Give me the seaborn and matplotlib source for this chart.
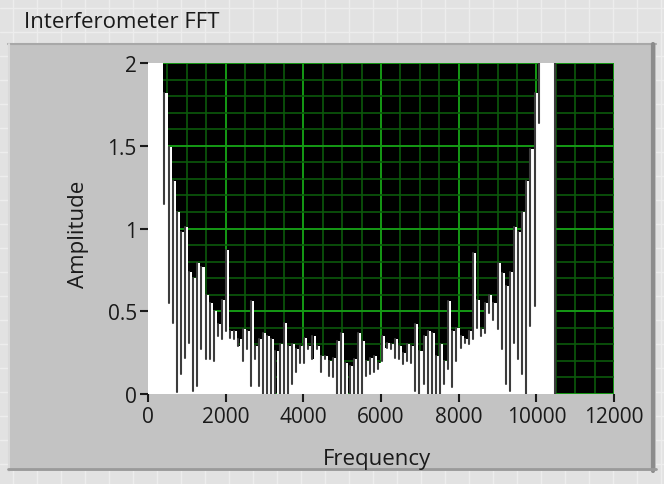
import numpy as np
import pandas as pd
import matplotlib
matplotlib.use("Agg")
import matplotlib.pyplot as plt
from matplotlib.patches import Rectangle
from matplotlib.lines import Line2D
import seaborn as sns

# FFT bins: DC bins (off scale), then alternating peak / trough bins, then the tail
dc_amp = [6.0, 5.2, 4.4, 3.8, 3.3, 2.9, 2.6, 2.4]
first_trough = 1.15
peak_amp = [
    1.82, 1.49, 1.29, 1.10, 0.98, 1.01, 0.74, 0.70, 0.79, 0.77,
    0.60, 0.55, 0.50, 0.42, 0.57, 0.87, 0.38, 0.38, 0.33, 0.39,
    0.38, 0.56, 0.29, 0.33, 0.37, 0.35, 0.33, 0.26, 0.30, 0.43,
    0.29, 0.30, 0.27, 0.29, 0.34, 0.29, 0.35, 0.29, 0.23, 0.23,
    0.20, 0.22, 0.32, 0.37, 0.19, 0.17, 0.21, 0.37, 0.32, 0.20,
    0.22, 0.23, 0.19, 0.35, 0.31, 0.30, 0.33, 0.29, 0.25, 0.30,
    0.29, 0.42, 0.26, 0.35, 0.38, 0.37, 0.23, 0.30, 0.20, 0.56,
    0.38, 0.40, 0.35, 0.33, 0.38, 0.85, 0.57, 0.39, 0.55, 0.60,
    0.55, 0.79, 0.73, 0.65, 0.74, 1.01, 0.98, 1.10, 1.29, 1.48, 1.82,
]
trough_amp = [
    0.55, 0.43, 0.01, 0.12, 0.22, 0.31, 0.02, 0.05, 0.27, 0.21,
    0.21, 0.20, 0.35, 0.33, 0.38, 0.34, 0.33, 0.29, 0.20, 0.27,
    0.05, 0.21, 0.05, 0.00, 0.00, 0.00, 0.00, 0.00, 0.00, 0.00,
    0.06, 0.13, 0.19, 0.19, 0.27, 0.21, 0.27, 0.13, 0.21, 0.11,
    0.10, 0.00, 0.00, 0.00, 0.00, 0.00, 0.00, 0.00, 0.11, 0.12,
    0.13, 0.15, 0.20, 0.28, 0.27, 0.22, 0.21, 0.18, 0.20, 0.19,
    0.02, 0.00, 0.06, 0.00, 0.00, 0.00, 0.00, 0.06, 0.15, 0.04,
    0.20, 0.28, 0.31, 0.30, 0.33, 0.40, 0.35, 0.37, 0.49, 0.45,
    0.39, 0.27, 0.06, 0.02, 0.31, 0.21, 0.12, 0.00, 0.41, 0.53,
]
tail_amp = [1.64, 2.3, 2.6, 2.9, 3.3, 3.8, 4.5, 5.2, 0.0]
bin_hz = 52.95

x_ticks = [0, 2000, 4000, 6000, 8000, 10000, 12000]
y_ticks = [0, 0.5, 1, 1.5, 2]
y_tick_labels = ["0", "0.5", "1", "1.5", "2"]

# build the sample sequence
amp = list(dc_amp) + [first_trough]
for i, p in enumerate(peak_amp):
    amp.append(p)
    if i < len(trough_amp):
        amp.append(trough_amp[i])
amp += tail_amp
freq = np.arange(len(amp)) * bin_hz
df = pd.DataFrame({"Frequency": freq, "Amplitude": amp})

# dark trace strokes: from each trough bin up to the next bin
n0 = len(dc_amp)
lows = [first_trough] + trough_amp + [tail_amp[0]]
highs = peak_amp + [tail_amp[1]]
seg_idx = [n0 + 2 * k for k in range(len(lows))]
rows = []
for s, (i, lo, hi) in enumerate(zip(seg_idx, lows, highs)):
    rows.append((s, freq[i], lo))
    rows.append((s, freq[i], hi))
rows.append((len(lows), freq[-1], amp[-1]))
rows.append((len(lows), freq[-1], amp[-2]))
seg_df = pd.DataFrame(rows, columns=["seg", "Frequency", "Amplitude"])

W, H = 664, 485
sns.set_style("dark")
plt.rcParams["font.family"] = ["Open Sans", "DejaVu Sans"]
ink = "#1a1a1a"

fig = plt.figure(figsize=(W / 100, H / 100), dpi=100)
fig.patch.set_facecolor("#e2e2e2")


def fx(x):
    return x / W


def fy(y):
    return 1 - y / H


# front panel grid
for gx in range(13, W, 24):
    fig.add_artist(Line2D([fx(gx), fx(gx)], [0, 1], color="#ededed", lw=1, zorder=0))
for gy in range(9, H, 24):
    fig.add_artist(Line2D([0, 1], [fy(gy), fy(gy)], color="#ededed", lw=1, zorder=0))

# graph frame
fig.add_artist(Rectangle((fx(8), fy(472)), fx(656 - 8), (472 - 45) / H,
                         facecolor="#c3c3c3", edgecolor="none", zorder=1))
fig.add_artist(Line2D([fx(8), fx(656)], [fy(45), fy(45)], color="#a8a8a8", lw=1.5, zorder=2))
fig.add_artist(Line2D([fx(9), fx(9)], [fy(45), fy(472)], color="#dadada", lw=1.5, zorder=2))
fig.add_artist(Line2D([fx(653), fx(653)], [fy(45), fy(472)], color="#8c8c8c", lw=3, zorder=2))
fig.add_artist(Line2D([fx(8), fx(656)], [fy(470), fy(470)], color="#9a9a9a", lw=2, zorder=2))

fig.text(fx(24), fy(22), "Interferometer FFT", fontsize=16, color=ink,
         ha="left", va="center")

ax = fig.add_axes([fx(148), fy(395), fx(614 - 148), (395 - 64) / H])
ax.set_zorder(5)
ax.set_facecolor("black")
ax.set_axisbelow(True)
ax.set_xticks(np.arange(0, 12001, 500), minor=True)
ax.set_yticks(np.arange(0, 2.001, 0.1), minor=True)
ax.grid(which="minor", color="#0b5a0b", lw=1.2)
ax.grid(which="major", color="#159a15", lw=1.4)

# white fill under the spectrum, one column per bin
ax.fill_between(df["Frequency"], df["Amplitude"], 0, step="mid",
                color="white", lw=0, zorder=2)
sns.lineplot(data=seg_df, x="Frequency", y="Amplitude", units="seg",
             estimator=None, sort=False, color="#3c3c3c", lw=1.5, ax=ax, zorder=3)

ax.set_xlim(0, 12000)
ax.set_ylim(0, 2)
ax.set_xticks(x_ticks)
ax.set_xticklabels([str(t) for t in x_ticks])
ax.set_yticks(y_ticks)
ax.set_yticklabels(y_tick_labels)
ax.tick_params(which="major", direction="out", length=6, width=1.5, color=ink,
               labelsize=15, labelcolor=ink, pad=2)
ax.tick_params(which="minor", length=0)
ax.tick_params(axis="x", bottom=True, pad=3)
ax.tick_params(axis="y", left=True)
for s in ax.spines.values():
    s.set_visible(False)

ax.set_xlabel("Frequency", fontsize=16, color=ink, va="center")
ax.set_ylabel("Amplitude", fontsize=16, color=ink, va="center")
ax.xaxis.set_label_coords(0.491, -0.196)
ax.yaxis.set_label_coords(-0.150, 0.485)

fig.savefig("out.png", dpi=100, facecolor=fig.get_facecolor())
